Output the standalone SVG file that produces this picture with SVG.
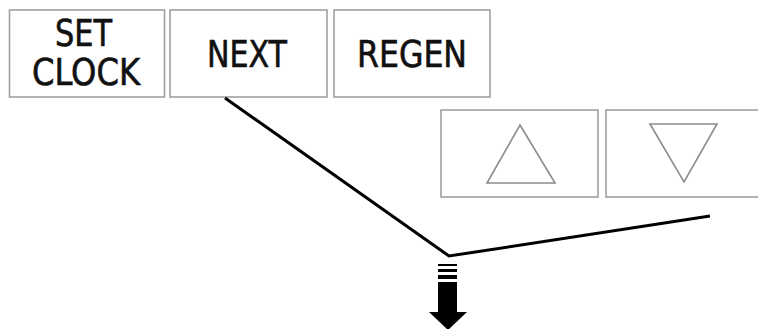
<svg xmlns="http://www.w3.org/2000/svg" width="758" height="329" viewBox="0 0 758 329">
<style>
.btn{fill:#fff;stroke:#a0a0a0;stroke-width:1.6}
.tri{fill:none;stroke:#8c8c8c;stroke-width:1.6;stroke-linejoin:miter}
.lbl{font-family:"DejaVu Sans Condensed","DejaVu Sans",sans-serif;font-size:37px;fill:#111;stroke:#111;stroke-width:0.6}
.con{fill:none;stroke:#000;stroke-width:3;stroke-linejoin:miter}
</style>
<rect width="758" height="329" fill="#fff"/>
<g id="set-clock">
<rect class="btn" x="9.5" y="10" width="155" height="87"/>
<text class="lbl" x="55" y="46" textLength="57" lengthAdjust="spacingAndGlyphs">SET</text>
<text class="lbl" x="32" y="85" textLength="108" lengthAdjust="spacingAndGlyphs">CLOCK</text>
</g>
<g id="next">
<rect class="btn" x="170" y="10" width="157" height="87"/>
<text class="lbl" x="207" y="67" textLength="80" lengthAdjust="spacingAndGlyphs">NEXT</text>
</g>
<g id="regen">
<rect class="btn" x="334" y="10" width="156" height="87"/>
<text class="lbl" x="357" y="67" textLength="110" lengthAdjust="spacingAndGlyphs">REGEN</text>
</g>
<g id="up">
<rect class="btn" x="441" y="110" width="157" height="87"/>
<polygon class="tri" points="520,125 555,183 487,183"/>
</g>
<g id="down">
<rect class="btn" x="606" y="110" width="160" height="87"/>
<polygon class="tri" points="650,124 717,124 684,182"/>
</g>
<g id="connectors">
<polyline class="con" points="225,98 449,256 710,216"/>
<g id="arrow" fill="#000">
<rect x="438" y="264" width="19" height="2"/>
<rect x="438" y="269" width="19" height="3"/>
<rect x="438" y="275" width="19" height="4"/>
<rect x="438" y="282" width="19" height="31"/>
<polygon points="429,312 467,312 448,330"/>
</g>
</g>
</svg>
